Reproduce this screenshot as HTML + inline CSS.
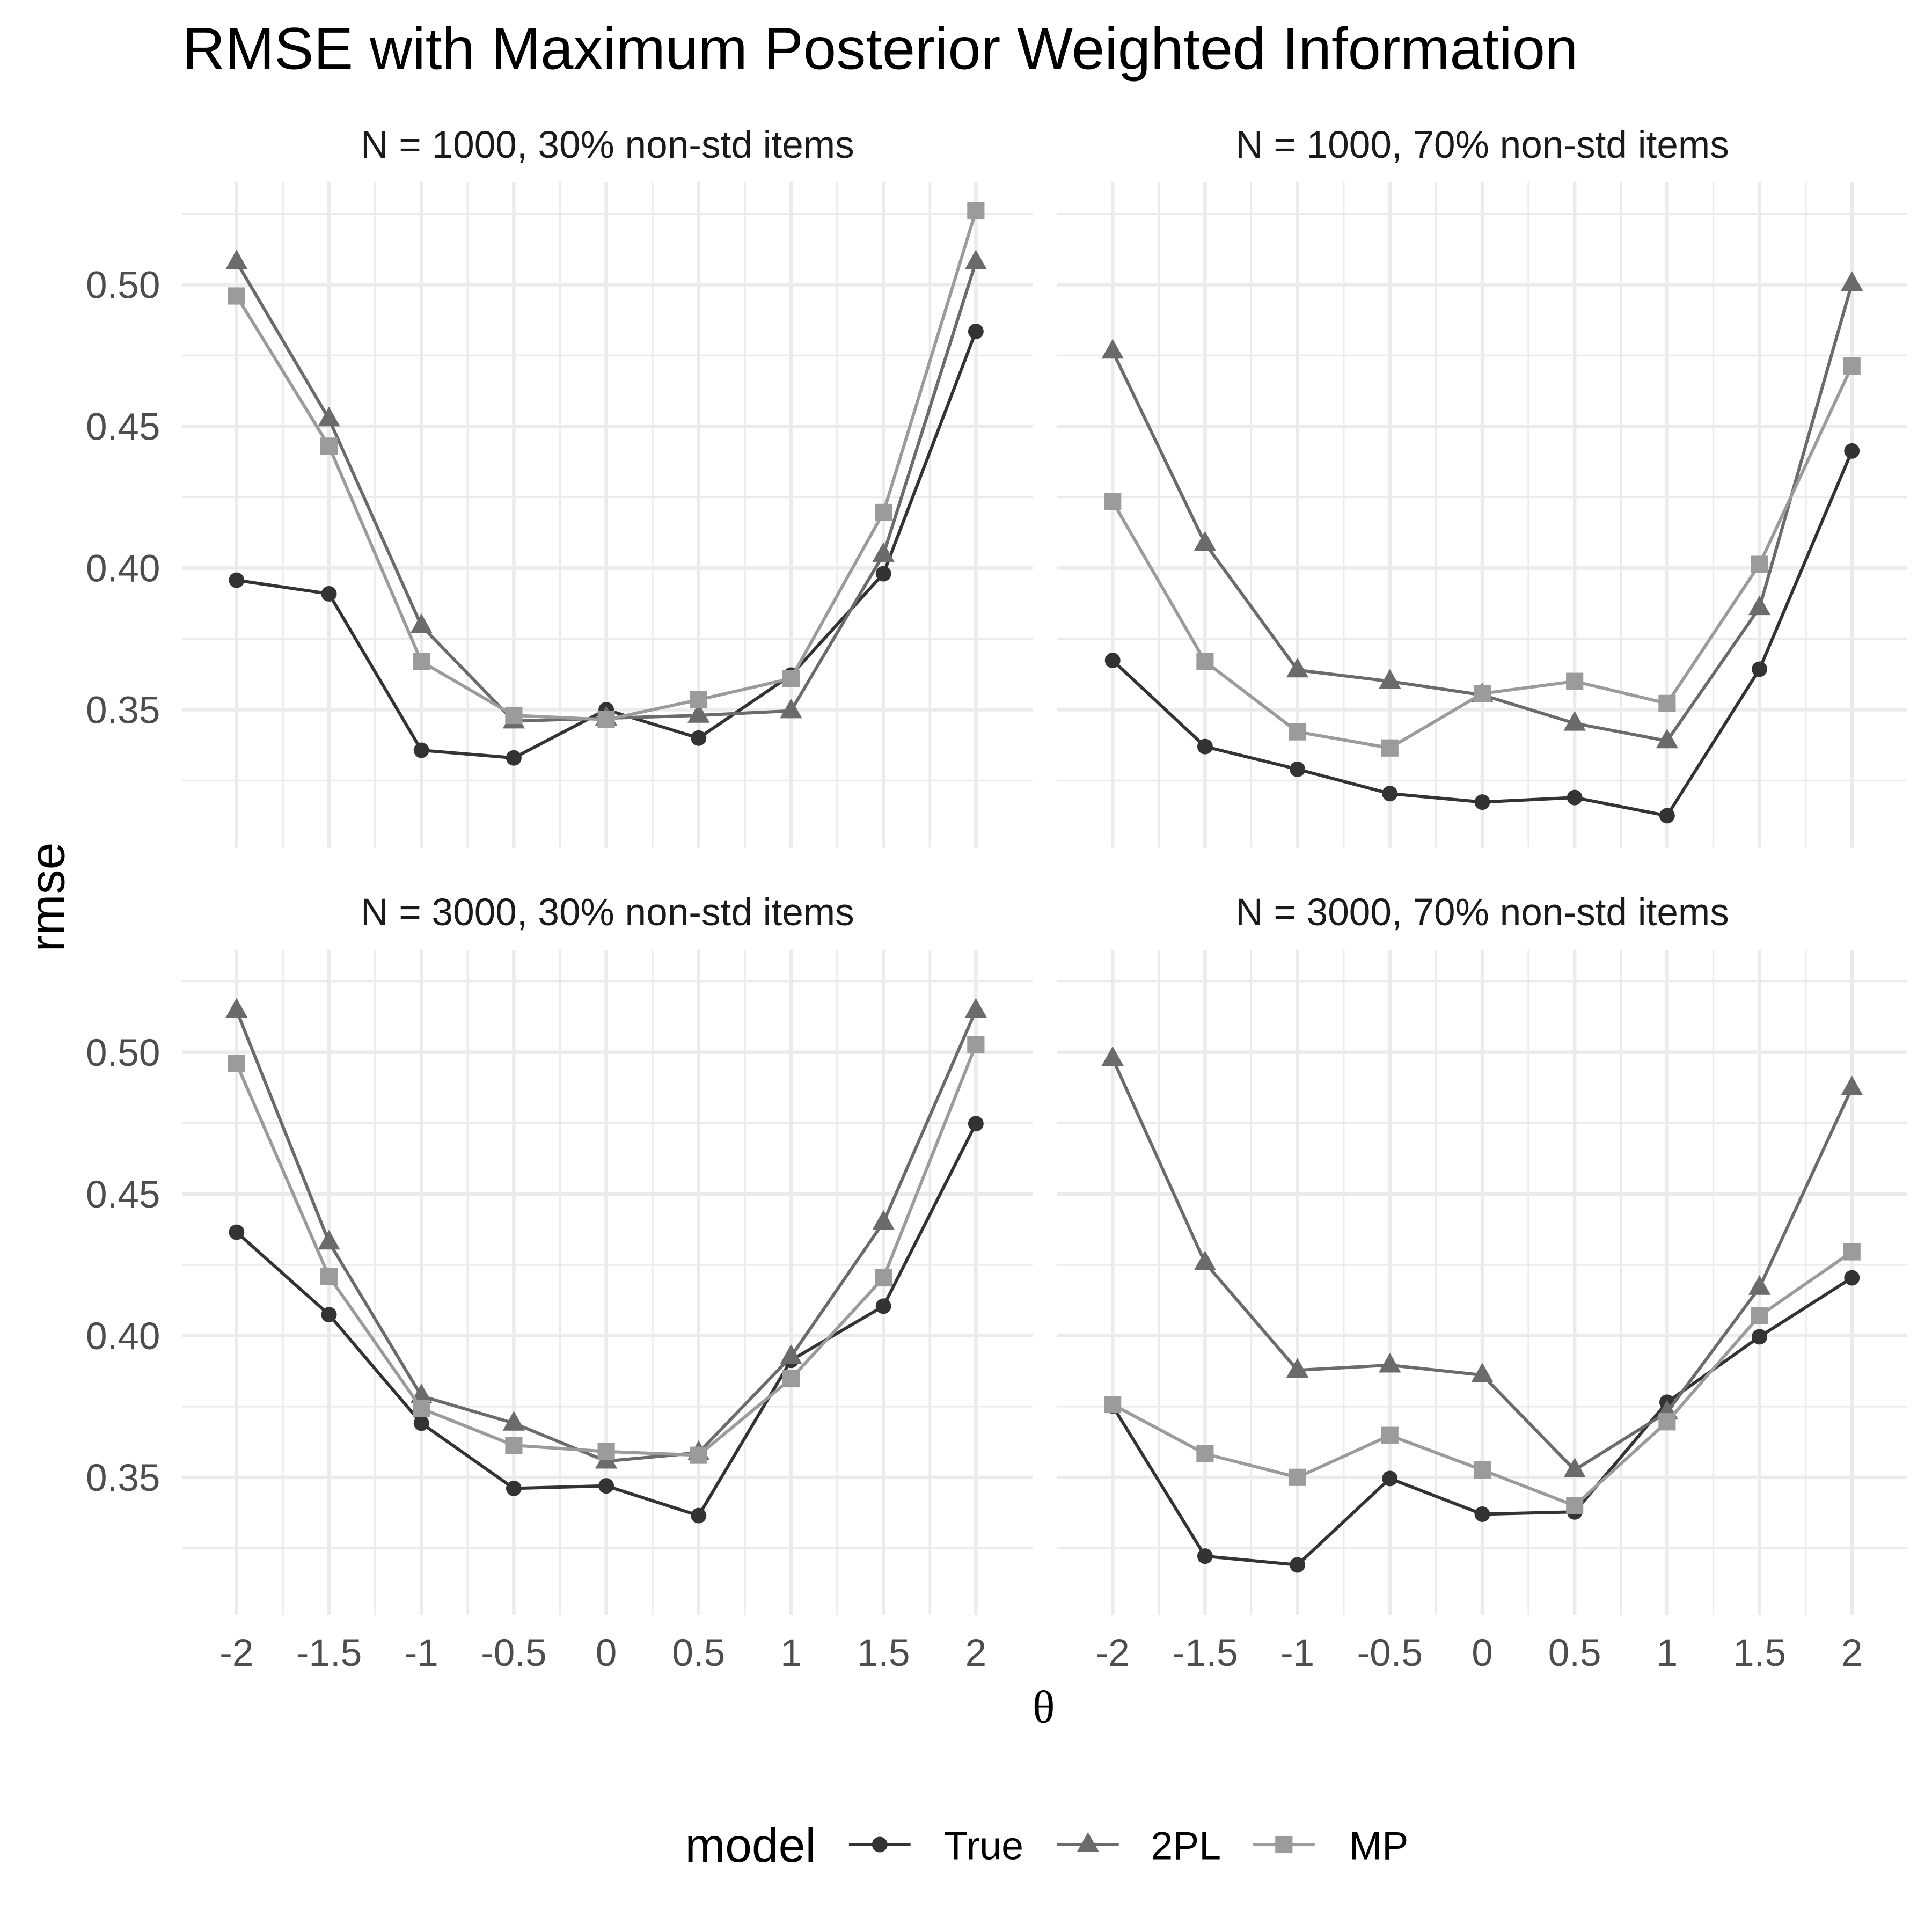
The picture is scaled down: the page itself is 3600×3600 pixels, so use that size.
<!DOCTYPE html>
<html><head><meta charset="utf-8"><style>
html,body{margin:0;padding:0;background:#fff;}
svg{display:block;font-family:"Liberation Sans",sans-serif;}
</style></head><body>
<svg id="chart" width="3600" height="3600" viewBox="0 0 1568 1568" xmlns="http://www.w3.org/2000/svg">
<rect x="0" y="0" width="1568" height="1568" fill="#fff"/>
<text x="148" y="56" font-size="48" fill="#000">RMSE with Maximum Posterior Weighted Information</text>
<g id="panels"></g>
<text x="847" y="1398" font-size="38" text-anchor="middle" font-family="Liberation Serif, serif">θ</text>
<text transform="translate(52,728) rotate(-90)" font-size="40" text-anchor="middle">rmse</text>
<g id="legend"></g>
</svg>
<script>
const thetas = [-2,-1.5,-1,-0.5,0,0.5,1,1.5,2];
const xTickLabels = ["-2","-1.5","-1","-0.5","0","0.5","1","1.5","2"];
const yTicks = [0.35,0.40,0.45,0.50];
const yTickLabels = ["0.35","0.40","0.45","0.50"];
const yMinor = [0.325,0.375,0.425,0.475,0.525];
const panelTitles = ["N = 1000, 30% non-std items","N = 1000, 70% non-std items","N = 3000, 30% non-std items","N = 3000, 70% non-std items"];
const modelNames = ["True","2PL","MP"];
const p1True = [0.3957,0.3909,0.3357,0.333,0.35,0.340,0.3622,0.398,0.4835];
const p1TwoPL = [0.508,0.4526,0.3796,0.346,0.347,0.348,0.3496,0.4048,0.508];
const p1MP = [0.496,0.443,0.367,0.348,0.3465,0.3535,0.361,0.4196,0.526];
const p2True = [0.3674,0.337,0.329,0.3204,0.3174,0.319,0.3126,0.3643,0.4413];
const p2TwoPL = [0.4765,0.4087,0.364,0.36,0.3552,0.3452,0.339,0.386,0.5004];
const p2MP = [0.4235,0.367,0.3422,0.3365,0.3557,0.36,0.3522,0.4013,0.4713];
const p3True = [0.4365,0.4074,0.3691,0.3461,0.347,0.3365,0.3913,0.4104,0.4748];
const p3TwoPL = [0.5148,0.433,0.3787,0.3691,0.3557,0.3587,0.3926,0.44,0.5148];
const p3MP = [0.496,0.4209,0.3743,0.3613,0.3591,0.3578,0.3848,0.4204,0.5026];
const p4True = [0.3752,0.3222,0.3191,0.3496,0.337,0.3378,0.3765,0.3996,0.4204];
const p4TwoPL = [0.4978,0.4257,0.3878,0.3896,0.3861,0.3526,0.373,0.417,0.4874];
const p4MP = [0.3757,0.3583,0.35,0.3648,0.3526,0.34,0.3696,0.407,0.4296];

const NS="http://www.w3.org/2000/svg";
const colors=["#333333","#6b6b6b","#9b9b9b"];
const panelsG=document.getElementById('panels');
const data=[[p1True,p1TwoPL,p1MP],[p2True,p2TwoPL,p2MP],[p3True,p3TwoPL,p3MP],[p4True,p4TwoPL,p4MP]];
const layouts=[{x0:148,x1:838,xm2:192,y50:231,top:148,bot:688},{x0:858,x1:1548,xm2:903,y50:231,top:148,bot:688},
{x0:148,x1:838,xm2:192,y50:854,top:771,bot:1311},{x0:858,x1:1548,xm2:903,y50:854,top:771,bot:1311}];
function mk(tag,attrs,parent){const e=document.createElementNS(NS,tag);for(const k in attrs)e.setAttribute(k,attrs[k]);parent.appendChild(e);return e;}
function marker(shape,cx,cy,col,parent){
  if(shape===0) return mk('circle',{cx:cx,cy:cy,r:6.3,fill:col},parent);
  if(shape===1) return mk('polygon',{points:`${cx},${cy-10} ${cx-9},${cy+6} ${cx+9},${cy+6}`,fill:col},parent);
  return mk('rect',{x:cx-7,y:cy-7,width:14,height:14,fill:col},parent);
}
layouts.forEach((L,pi)=>{
  const g=mk('g',{},panelsG);
  
  
  const xs=v=>L.xm2+(v+2)*150;
  const ys=v=>L.y50+(0.5-v)*2300;
  yMinor.forEach(v=>{const y=ys(v);if(y>=L.top&&y<=L.bot)mk('line',{x1:L.x0,x2:L.x1,y1:y,y2:y,stroke:'#ebebeb','stroke-width':1.5},g);});
  for(let i=0;i<thetas.length-1;i++){const x=xs((thetas[i]+thetas[i+1])/2);mk('line',{x1:x,x2:x,y1:L.top,y2:L.bot,stroke:'#ebebeb','stroke-width':1.5},g);}
  yTicks.forEach(v=>{const y=ys(v);mk('line',{x1:L.x0,x2:L.x1,y1:y,y2:y,stroke:'#ebebeb','stroke-width':2.8},g);});
  thetas.forEach(v=>{const x=xs(v);mk('line',{x1:x,x2:x,y1:L.top,y2:L.bot,stroke:'#ebebeb','stroke-width':2.8},g);});
  const st=mk('text',{x:(L.x0+L.x1)/2,y:L.top-20,'font-size':31,'text-anchor':'middle',fill:'#1a1a1a'},g);
  st.textContent=panelTitles[pi];
  
  
  if(pi%2===0){yTicks.forEach((v,i)=>{const t=mk('text',{x:130,y:ys(v)+11,'font-size':31,'text-anchor':'end',fill:'#4d4d4d'},g);t.textContent=yTickLabels[i];
    
    });}
  if(pi>=2){thetas.forEach((v,i)=>{const t=mk('text',{x:xs(v),y:1352,'font-size':31,'text-anchor':'middle',fill:'#4d4d4d'},g);t.textContent=xTickLabels[i];
    
    });}
  data[pi].forEach((series,si)=>{
    const pts=series.map((v,i)=>xs(thetas[i])+','+ys(v)).join(' ');
    const pl=mk('polyline',{points:pts,fill:'none',stroke:colors[si],'stroke-width':2.6,'stroke-linejoin':'round'},g);
    
    
    series.forEach((v,i)=>{const m=marker(si,xs(thetas[i]),ys(v),colors[si],g);
      
      });
  });
});
const lg=document.getElementById('legend');
const lt=mk('text',{x:556,y:1511,'font-size':39,fill:'#000'},lg);lt.textContent='model';


const keyC=[714,883,1042],textX=[766,934,1095];
modelNames.forEach((n,i)=>{
  const l=mk('line',{x1:keyC[i]-25,x2:keyC[i]+25,y1:1497,y2:1497,stroke:colors[i],'stroke-width':2.6},lg);
  
  
  marker(i,keyC[i],1497,colors[i],lg);
  const t=mk('text',{x:textX[i],y:1509,'font-size':32,fill:'#000'},lg);t.textContent=n;
  
  
});
</script>
</body></html>
